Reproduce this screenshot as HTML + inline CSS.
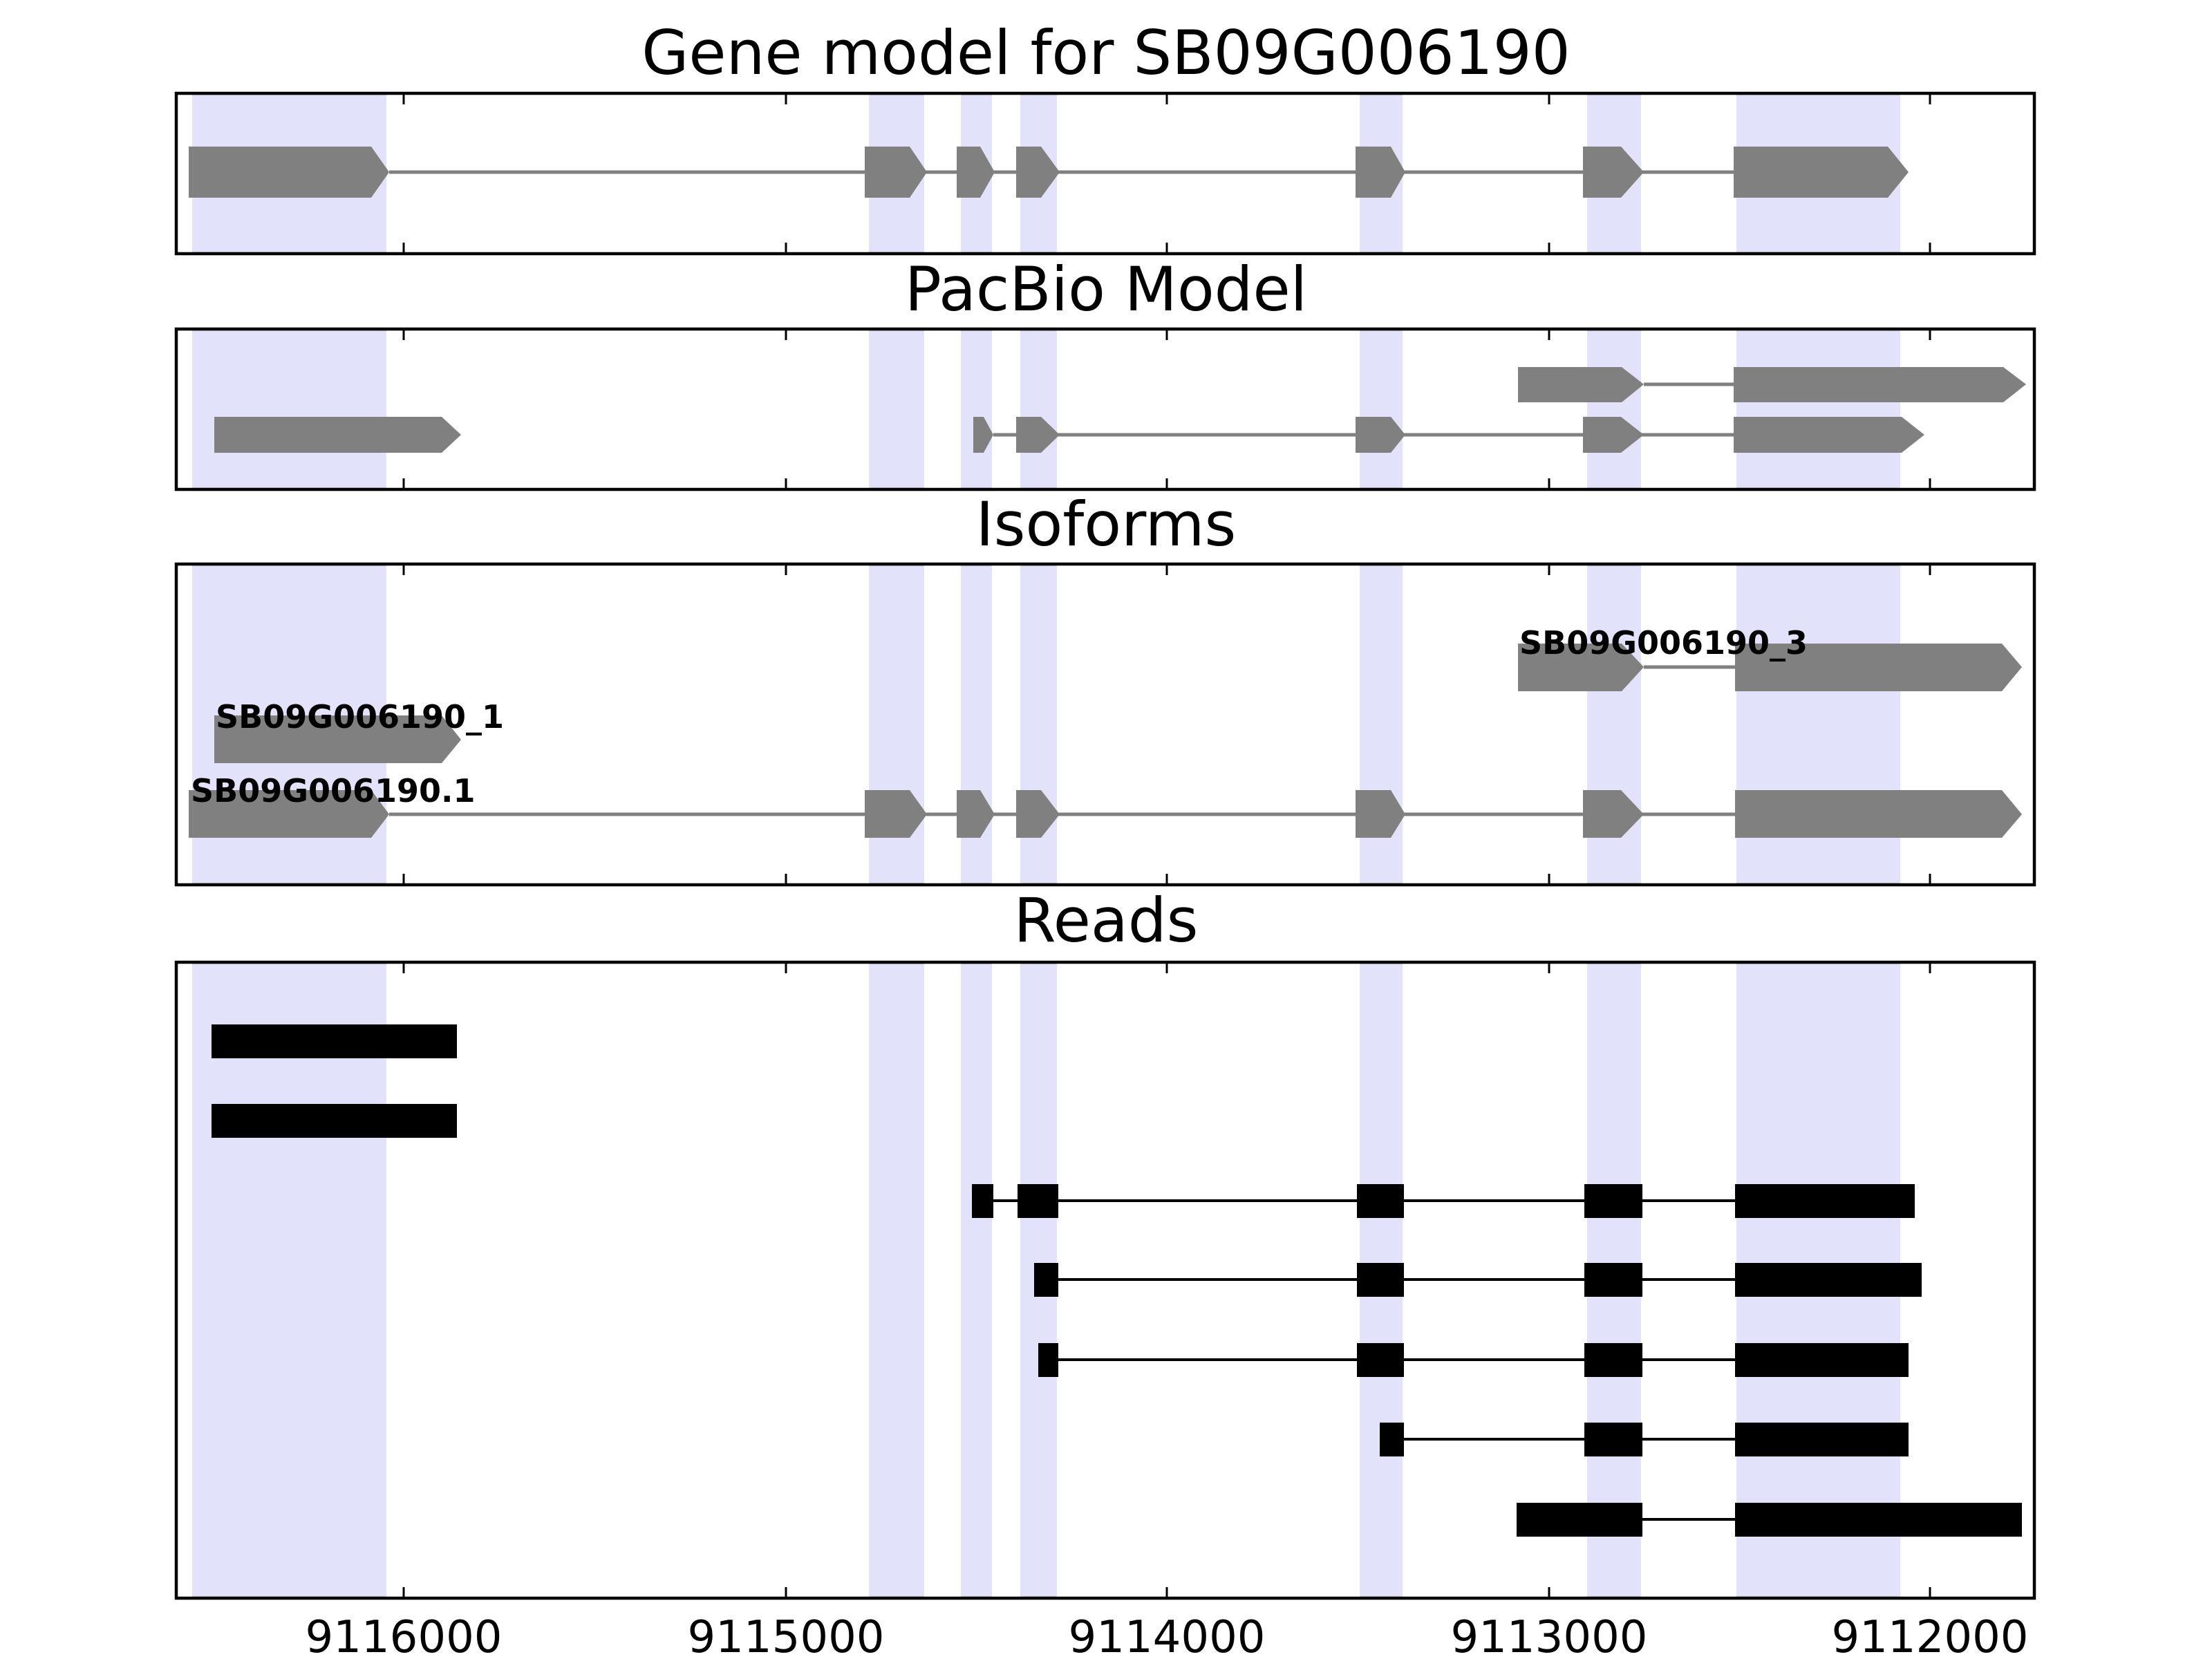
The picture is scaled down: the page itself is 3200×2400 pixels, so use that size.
<!DOCTYPE html>
<html><head><style>body{margin:0;background:#fff}svg{display:block}</style></head><body>
<svg width="3200" height="2400" viewBox="0 0 3200 2400" xmlns="http://www.w3.org/2000/svg" font-family="DejaVu Sans, Liberation Sans, sans-serif">
<defs>
<g id="b1">
<rect x="278" y="0" width="281" height="1"/><rect x="1257" y="0" width="80" height="1"/><rect x="1390" y="0" width="45" height="1"/><rect x="1476" y="0" width="53" height="1"/><rect x="1967" y="0" width="62" height="1"/><rect x="2296" y="0" width="78" height="1"/><rect x="2512" y="0" width="237" height="1"/>
</g>
</defs>
<g fill="#e2e2fb" stroke="#d6d6ea" stroke-width="3">
<use href="#b1" transform="translate(0,137) scale(1,228)" vector-effect="non-scaling-stroke" stroke-width="0.013"/>
<use href="#b1" transform="translate(0,478) scale(1,228)" stroke-width="0.013"/>
<use href="#b1" transform="translate(0,818) scale(1,460)" stroke-width="0.0065"/>
<use href="#b1" transform="translate(0,1394) scale(1,916)" stroke-width="0.0033"/>
</g>
<g fill="none" stroke="#000" stroke-width="4.5">
<rect x="255" y="135" width="2688" height="232"/>
<rect x="255" y="476" width="2688" height="232"/>
<rect x="255" y="816" width="2688" height="464"/>
<rect x="255" y="1392" width="2688" height="920"/>
</g>
<g stroke="#000" stroke-width="3">
<path d="M584 135v16M1137 135v16M1688 135v16M2241 135v16M2792 135v16"/>
<path d="M584 367v-16M1137 367v-16M1688 367v-16M2241 367v-16M2792 367v-16"/>
<path d="M584 476v16M1137 476v16M1688 476v16M2241 476v16M2792 476v16"/>
<path d="M584 708v-16M1137 708v-16M1688 708v-16M2241 708v-16M2792 708v-16"/>
<path d="M584 816v16M1137 816v16M1688 816v16M2241 816v16M2792 816v16"/>
<path d="M584 1280v-16M1137 1280v-16M1688 1280v-16M2241 1280v-16M2792 1280v-16"/>
<path d="M584 1392v16M1137 1392v16M1688 1392v16M2241 1392v16M2792 1392v16"/>
<path d="M584 2312v-16M1137 2312v-16M1688 2312v-16M2241 2312v-16M2792 2312v-16"/>
</g>
<g font-size="88" text-anchor="middle" fill="#000">
<text x="1600" y="107">Gene model for SB09G006190</text>
<text x="1600" y="449">PacBio Model</text>
<text x="1600" y="789">Isoforms</text>
<text x="1600" y="1362">Reads</text>
</g>
<g font-size="64" text-anchor="middle" fill="#000">
<text x="584" y="2390">9116000</text><text x="1137" y="2390">9115000</text><text x="1688" y="2390">9114000</text><text x="2241" y="2390">9113000</text><text x="2792" y="2390">9112000</text>
</g>
<g fill="#808080" stroke="#808080">
<path d="M563 249H2508" stroke-width="5"/>
<g stroke="none">
<polygon points="273,212 537,212 563,249 537,286 273,286"/>
<polygon points="1251,212 1316,212 1341,249 1316,286 1251,286"/>
<polygon points="1384,212 1418,212 1439,249 1418,286 1384,286"/>
<polygon points="1470,212 1506,212 1533,249 1506,286 1470,286"/>
<polygon points="1961,212 2012,212 2033,249 2012,286 1961,286"/>
<polygon points="2290,212 2345,212 2378,249 2345,286 2290,286"/>
<polygon points="2508,212 2731,212 2761,249 2731,286 2508,286"/>
</g>
<path d="M2378 556H2508M1437 629H2508" stroke-width="5"/>
<g stroke="none">
<polygon points="2196,531 2346,531 2378,556 2346,582 2196,582"/>
<polygon points="2508,531 2898,531 2931,556 2898,582 2508,582"/>
<polygon points="310,603 639,603 667,629 639,655 310,655"/>
<polygon points="1408,603 1423,603 1437,629 1423,655 1408,655"/>
<polygon points="1470,603 1506,603 1533,629 1506,655 1470,655"/>
<polygon points="1961,603 2012,603 2033,629 2012,655 1961,655"/>
<polygon points="2290,603 2345,603 2378,629 2345,655 2290,655"/>
<polygon points="2508,603 2751,603 2784,629 2751,655 2508,655"/>
</g>
<path d="M2378 965H2510M563 1178H2510" stroke-width="5"/>
<g stroke="none">
<polygon points="2196,931 2346,931 2378,965 2346,1000 2196,1000"/>
<polygon points="2510,931 2896,931 2925,965 2896,1000 2510,1000"/>
<polygon points="310,1035 639,1035 667,1070 639,1104 310,1104"/>
<polygon points="273,1143 537,1143 563,1178 537,1212 273,1212"/>
<polygon points="1251,1143 1316,1143 1341,1178 1316,1212 1251,1212"/>
<polygon points="1384,1143 1418,1143 1439,1178 1418,1212 1384,1212"/>
<polygon points="1470,1143 1506,1143 1533,1178 1506,1212 1470,1212"/>
<polygon points="1961,1143 2012,1143 2033,1178 2012,1212 1961,1212"/>
<polygon points="2290,1143 2345,1143 2378,1178 2345,1212 2290,1212"/>
<polygon points="2510,1143 2896,1143 2925,1178 2896,1212 2510,1212"/>
</g>
</g>
<g font-size="46" font-weight="bold" fill="#000">
<text x="2198" y="946">SB09G006190_3</text>
<text x="312" y="1053">SB09G006190_1</text>
<text x="276" y="1160">SB09G006190.1</text>
</g>
<g fill="#000" stroke="#000" stroke-width="4">
<rect x="306" y="1482" width="355" height="49" stroke="none"/>
<rect x="306" y="1597" width="355" height="49" stroke="none"/>
<path d="M1406 1737H2510M1496 1851H2510M1502 1967H2510M1996 2082H2510M2194 2198H2510"/>
<g stroke="none">
<rect x="1406" y="1713" width="31" height="49"/><rect x="1472" y="1713" width="59" height="49"/><rect x="1963" y="1713" width="68" height="49"/><rect x="2292" y="1713" width="84" height="49"/><rect x="2510" y="1713" width="260" height="49"/>
<rect x="1496" y="1827" width="35" height="49"/><rect x="1963" y="1827" width="68" height="49"/><rect x="2292" y="1827" width="84" height="49"/><rect x="2510" y="1827" width="270" height="49"/>
<rect x="1502" y="1943" width="29" height="49"/><rect x="1963" y="1943" width="68" height="49"/><rect x="2292" y="1943" width="84" height="49"/><rect x="2510" y="1943" width="251" height="49"/>
<rect x="1996" y="2058" width="35" height="49"/><rect x="2292" y="2058" width="84" height="49"/><rect x="2510" y="2058" width="251" height="49"/>
<rect x="2194" y="2174" width="182" height="49"/><rect x="2510" y="2174" width="415" height="49"/>
</g>
</g>
</svg>
</body></html>
